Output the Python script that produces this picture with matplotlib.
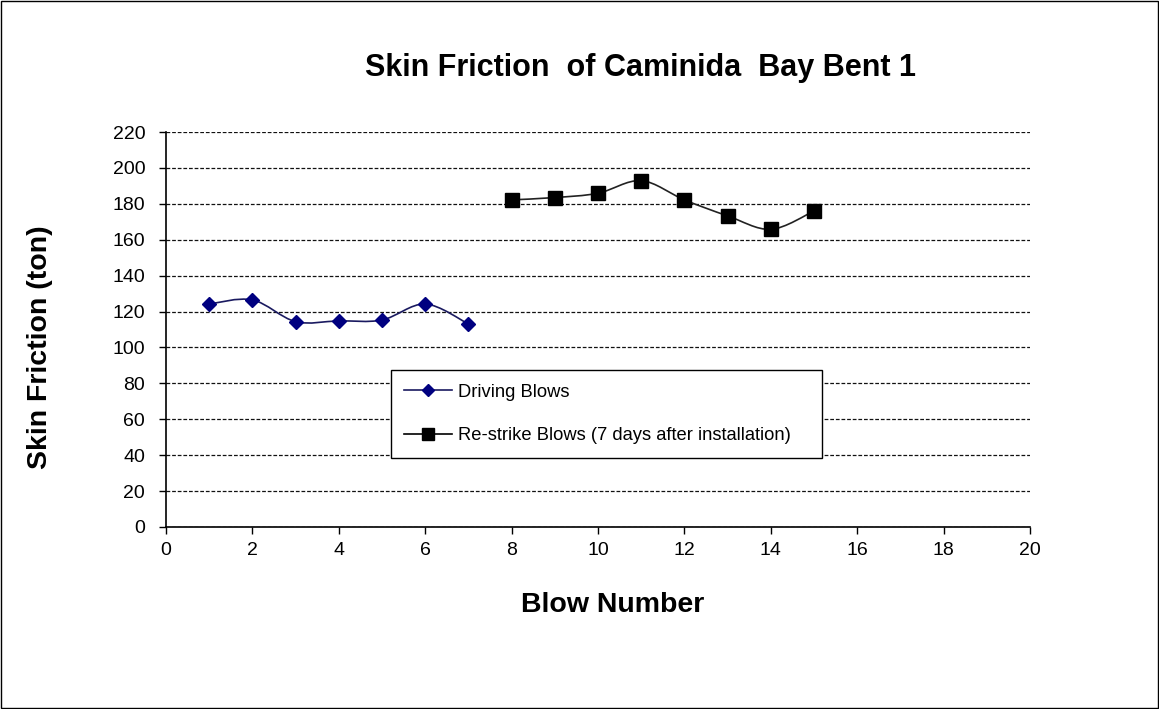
import numpy as np
import matplotlib
matplotlib.use('Agg')
import matplotlib.pyplot as plt
from matplotlib.path import Path
from matplotlib.patches import PathPatch, Rectangle
from matplotlib.lines import Line2D

plt.rcParams['font.family'] = ['Liberation Sans', 'DejaVu Sans']

# data
driving_x = [1, 2, 3, 4, 5, 6, 7]
driving_y = [124.2, 126.5, 114.4, 114.8, 115.3, 124.2, 113.1]
restrike_x = [8, 9, 10, 11, 12, 13, 14, 15]
restrike_y = [182.2, 183.5, 185.9, 192.9, 182.2, 173.3, 165.8, 176.0]
x_ticks = list(range(0, 21, 2))
y_ticks = list(range(0, 221, 20))


def smooth_path(xs, ys):
    # Catmull-Rom style bezier through the points (like Excel "smoothed line")
    pts = np.column_stack([xs, ys]).astype(float)
    verts = [pts[0]]
    codes = [Path.MOVETO]
    n = len(pts)
    for i in range(n - 1):
        p0 = pts[i - 1] if i > 0 else pts[i]
        p1 = pts[i]
        p2 = pts[i + 1]
        p3 = pts[i + 2] if i + 2 < n else pts[i + 1]
        c1 = p1 + (p2 - p0) / 6.0
        c2 = p2 - (p3 - p1) / 6.0
        verts += [c1, c2, p2]
        codes += [Path.CURVE4] * 3
    return Path(verts, codes)


fig = plt.figure(figsize=(11.59, 7.09), dpi=100)
fig.patches.append(Rectangle((0.001, 0.001), 0.998, 0.997, transform=fig.transFigure,
                             fill=False, edgecolor='black', linewidth=1.0))
ax = fig.add_axes([0.1432, 0.2567, 0.7455, 0.5571])

ax.add_patch(PathPatch(smooth_path(driving_x, driving_y), fill=False,
                       edgecolor='#1a1a60', linewidth=1.2))
ax.add_patch(PathPatch(smooth_path(restrike_x, restrike_y), fill=False,
                       edgecolor='#222222', linewidth=1.2))
ax.plot(driving_x, driving_y, linestyle='none', marker='D', markersize=7.5,
        color='#000080')
ax.plot(restrike_x, restrike_y, linestyle='none', marker='s', markersize=9.5,
        color='black')

ax.set_xlim(0, 20)
ax.set_ylim(0, 220)
ax.set_xticks(x_ticks)
ax.set_yticks(y_ticks)
ax.tick_params(labelsize=14, direction='out', length=5, width=1)
ax.tick_params(axis='y', pad=10)
ax.tick_params(axis='x', pad=6)
ax.yaxis.grid(True, linestyle=(0, (3, 1.5)), color='#111111', linewidth=0.9)
ax.set_axisbelow(True)
for s in ['top', 'right']:
    ax.spines[s].set_visible(False)
ax.spines['left'].set_linewidth(1.2)
ax.spines['bottom'].set_linewidth(1.2)

fig.text(0.553, 0.904, 'Skin Friction  of Caminida  Bay Bent 1', fontsize=22,
         fontweight='bold', ha='center', va='center')
fig.text(0.529, 0.147, 'Blow Number', fontsize=20.5, fontweight='bold',
         ha='center', va='center')
fig.text(0.0345, 0.5106, 'Skin Friction (ton)', fontsize=20.5, fontweight='bold',
         ha='center', va='center', rotation=90)

handles = [
    Line2D([], [], color='#1a1a60', marker='D', markersize=6,
           markerfacecolor='#000080', markeredgecolor='#000080', linewidth=1.2),
    Line2D([], [], color='black', marker='s', markersize=9, linewidth=1.2),
]
leg = ax.legend(handles, ['Driving Blows', 'Re-strike Blows (7 days after installation)'],
                loc='lower left', bbox_to_anchor=(0.26, 0.1747, 0.499, 0.22),
                mode='expand', fontsize=13.2, frameon=True, fancybox=False,
                edgecolor='black', framealpha=1, borderpad=0.75, labelspacing=1.45,
                handlelength=2.6, handletextpad=0.35, borderaxespad=0)
leg.get_frame().set_linewidth(1.0)

fig.savefig('out.png', dpi=100)
